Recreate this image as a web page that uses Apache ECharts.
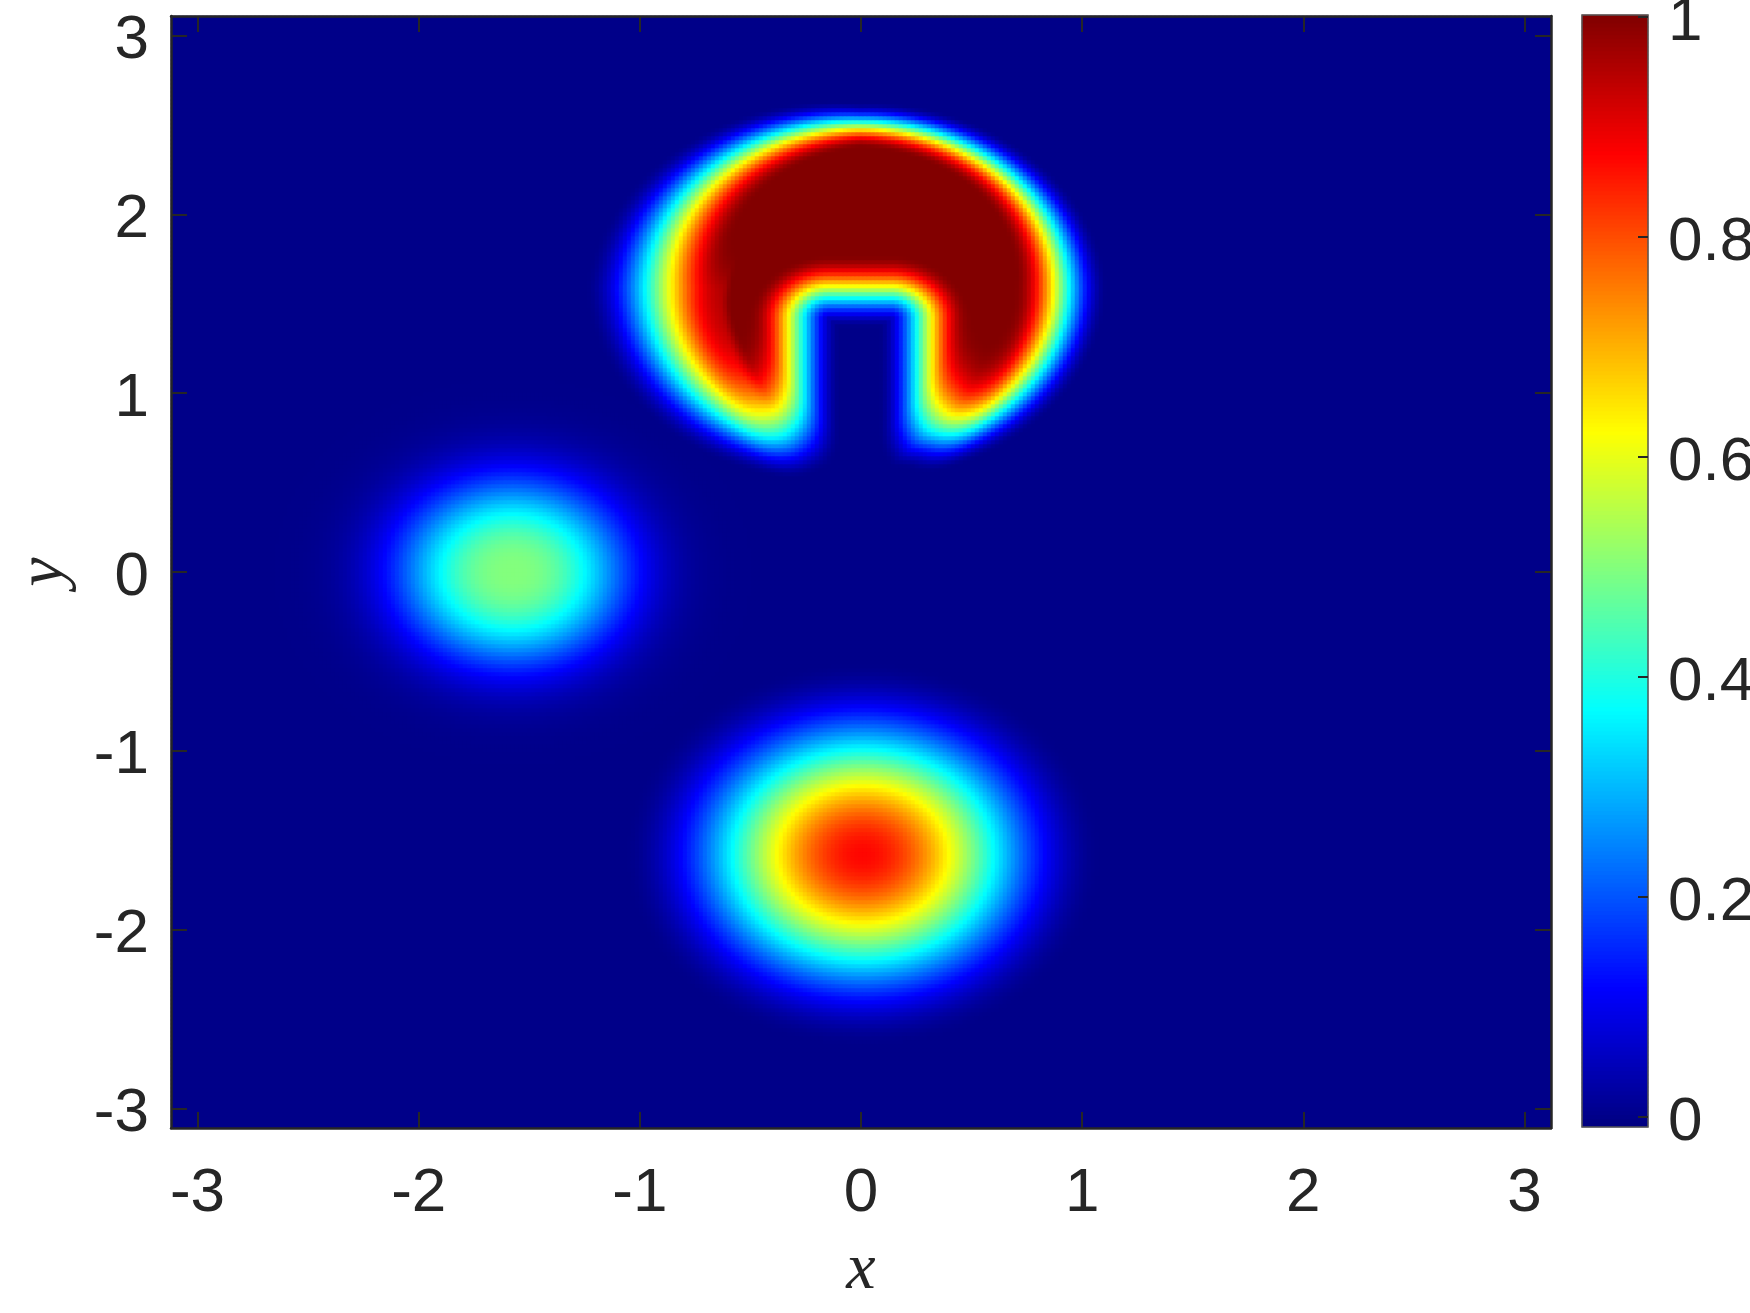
<!DOCTYPE html>
<html>
<head>
<meta charset="utf-8">
<script src="https://cdn.jsdelivr.net/npm/echarts@6/dist/echarts.min.js"></script>
<style>
  html, body { margin: 0; padding: 0; background: #fff; }
  #chart { width: 1750px; height: 1313px; }
</style>
</head>
<body>
<div id="chart"></div>
<script>
// axis extents and ticks
const xRange = [-3.12, 3.12];
const yRange = [-3.11, 3.11];
const xTicks = [-3, -2, -1, 0, 1, 2, 3];
const yTicks = [-3, -2, -1, 0, 1, 2, 3];
const cbarRange = [-0.009, 1.002];
const cbarTicks = [0, 0.2, 0.4, 0.6, 0.8, 1];

// sampling of the field (4 px cells)
const nx = 345, ny = 278;
const cbarSteps = 278;

// slotted disk (top)
const diskCenter = [-0.005, 1.59];
const diskRadius = 0.91;
const slotHalfWidth = 0.29;
const slotTop = 1.567;
const slotCorner = 0.15;
const slotEdge = 0.41;
const armRounding = 0.3;
// width of the smeared rim, every 45 degrees starting at the right side
const rimAngles = [0, 45, 90, 135, 180, 225, 270, 315];
const rimWidths = [0.42, 0.32, 0.25, 0.45, 0.67, 0.55, 0.34, 0.38];

// cone (bottom)
const coneCenter = [0.01, -1.58];
const coneRadius = 1.08;
const conePeak = 0.87;

// hump (left)
const humpCenter = [-1.575, 0];
const humpWidth = 0.51;
const humpPower = 2.6;
const humpPeak = 0.5;

// jet colormap
const jetColors = ['#000080', '#0000ff', '#0080ff', '#00ffff', '#80ff80', '#ffff00', '#ff8000', '#ff0000', '#800000'];

function smooth(t) {
  t = Math.max(0, Math.min(1, t));
  return t * t * (3 - 2 * t);
}

function rimWidth(dx, dy) {
  var a = Math.atan2(dy, dx) * 180 / Math.PI;
  if (a < 0) a += 360;
  var k = Math.floor(a / 45) % 8;
  var f = (a - rimAngles[k]) / 45;
  return rimWidths[k] * (1 - f) + rimWidths[(k + 1) % 8] * f;
}

function diskValue(x, y) {
  var dx = x - diskCenter[0], dy = y - diskCenter[1];
  var dDisk = diskRadius - Math.sqrt(dx * dx + dy * dy);
  // signed distance to the rounded slot, positive outside the slot
  var qx = Math.abs(dx) - (slotHalfWidth - slotCorner);
  var qy = y - (slotTop - slotCorner);
  var dSlot = Math.hypot(Math.max(qx, 0), Math.max(qy, 0)) + Math.min(Math.max(qx, qy), 0) - slotCorner;
  // smooth minimum rounds the ends of the two arms
  var h = Math.max(armRounding - Math.abs(dDisk - dSlot), 0) / armRounding;
  var d = Math.min(dDisk, dSlot) - h * h * armRounding / 4;
  var s = smooth((dDisk - dSlot) / 0.15 + 0.5);
  var w = rimWidth(dx, dy) * (1 - s) + slotEdge * s;
  return smooth(d / w + 0.5);
}

function coneValue(x, y) {
  var r = Math.hypot(x - coneCenter[0], y - coneCenter[1]);
  if (r >= coneRadius) return 0;
  return conePeak * 0.5 * (1 + Math.cos(Math.PI * r / coneRadius));
}

function humpValue(x, y) {
  var r = Math.hypot(x - humpCenter[0], y - humpCenter[1]);
  return humpPeak * Math.exp(-Math.pow(r / humpWidth, humpPower));
}

var xCats = [], yCats = [], cells = [];
var stepX = (xRange[1] - xRange[0]) / nx;
var stepY = (yRange[1] - yRange[0]) / ny;
for (var i = 0; i < nx; i++) xCats.push(String(i));
for (var j = 0; j < ny; j++) yCats.push(String(j));
for (var j = 0; j < ny; j++) {
  var y = yRange[0] + (j + 0.5) * stepY;
  for (var i = 0; i < nx; i++) {
    var x = xRange[0] + (i + 0.5) * stepX;
    var v = diskValue(x, y) + coneValue(x, y) + humpValue(x, y);
    cells.push([i, j, v]);
  }
}

// colour bar strip
var cbarCats = [], cbarCells = [];
for (var k = 0; k < cbarSteps; k++) {
  cbarCats.push(String(k));
  cbarCells.push([0, k, cbarRange[0] + (k + 0.5) / cbarSteps * (cbarRange[1] - cbarRange[0])]);
}

var chart = echarts.init(document.getElementById('chart'));
var axisColor = '#262626';
var tickFont = 'Liberation Sans';
var nameFont = 'Liberation Serif';

// tick label text, nudged a few pixels down like the original
var lowLabel = {
  formatter: function (v) { return '{t|' + v + '}'; },
  rich: { t: { fontSize: 62, fontFamily: tickFont, color: axisColor, padding: [11, 0, 0, 0] } }
};

function frameAxis(extra) {
  var base = {
    type: 'value',
    gridIndex: 0,
    z: 10,
    splitLine: { show: false },
    axisLine: { show: true, onZero: false, lineStyle: { color: axisColor, width: 2.5 } },
    axisLabel: { show: false }
  };
  return Object.assign(base, extra);
}

function frameTicks(values) {
  return { show: true, inside: true, length: 16, customValues: values, lineStyle: { color: axisColor, width: 2 } };
}

var option = {
  animation: false,
  backgroundColor: '#ffffff',
  grid: [
    { left: 171, top: 16, width: 1380, height: 1112, outerBoundsMode: 'none',
      show: true, backgroundColor: '#000082', borderWidth: 0 },
    { left: 1582, top: 15, width: 66, height: 1112, outerBoundsMode: 'none',
      show: true, z: 10, backgroundColor: 'transparent', borderColor: '#555555', borderWidth: 1.5 }
  ],
  xAxis: [
    { type: 'category', gridIndex: 0, data: xCats, show: false },
    frameAxis({
      position: 'bottom', min: xRange[0], max: xRange[1],
      axisTick: frameTicks(xTicks),
      axisLabel: { show: true, customValues: xTicks, fontSize: 62, fontFamily: tickFont, color: axisColor, margin: 35 },
      name: 'x', nameLocation: 'middle', nameGap: 110,
      nameTextStyle: { fontFamily: nameFont, fontStyle: 'italic', fontSize: 66, color: axisColor }
    }),
    frameAxis({ position: 'top', min: xRange[0], max: xRange[1], axisTick: frameTicks(xTicks) }),
    { type: 'category', gridIndex: 1, data: ['0'], show: false }
  ],
  yAxis: [
    { type: 'category', gridIndex: 0, data: yCats, show: false },
    frameAxis({
      position: 'left', min: yRange[0], max: yRange[1],
      axisTick: frameTicks(yTicks),
      axisLabel: Object.assign({ show: true, customValues: yTicks, margin: 22 }, lowLabel),
      name: 'y', nameLocation: 'middle', nameGap: 93,
      nameTextStyle: { fontFamily: nameFont, fontStyle: 'italic', fontSize: 66, color: axisColor }
    }),
    frameAxis({ position: 'right', min: yRange[0], max: yRange[1], axisTick: frameTicks(yTicks) }),
    { type: 'category', gridIndex: 1, data: cbarCats, show: false },
    {
      type: 'value', gridIndex: 1, position: 'right', z: 10,
      min: cbarRange[0], max: cbarRange[1],
      splitLine: { show: false },
      axisLine: { show: false },
      axisTick: { show: true, inside: true, length: 10, customValues: cbarTicks, lineStyle: { color: axisColor, width: 2 } },
      axisLabel: Object.assign({ show: true, customValues: cbarTicks, margin: 20 }, lowLabel)
    }
  ],
  visualMap: {
    type: 'continuous',
    show: false,
    seriesIndex: [0, 1],
    min: cbarRange[0],
    max: cbarRange[1],
    inRange: { color: jetColors }
  },
  series: [{
    type: 'heatmap',
    xAxisIndex: 0,
    yAxisIndex: 0,
    data: cells,
    progressive: 0,
    emphasis: { disabled: true },
    itemStyle: { borderWidth: 0 }
  }, {
    type: 'heatmap',
    xAxisIndex: 3,
    yAxisIndex: 3,
    data: cbarCells,
    progressive: 0,
    emphasis: { disabled: true },
    itemStyle: { borderWidth: 0 }
  }]
};
chart.setOption(option);
</script>
</body>
</html>
